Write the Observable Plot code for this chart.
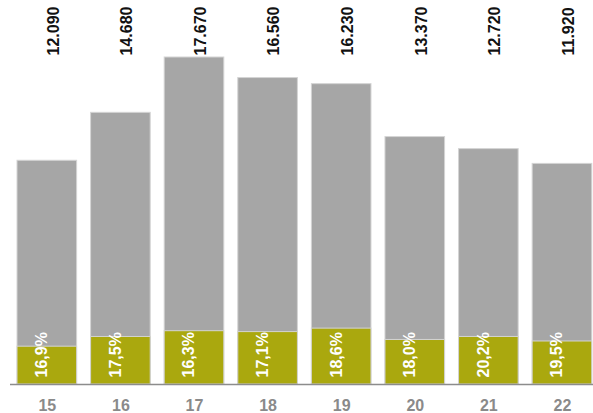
<!DOCTYPE html>
<html>
<head>
<meta charset="utf-8">
<script src="https://cdn.jsdelivr.net/npm/d3@7"></script>
<script src="https://cdn.jsdelivr.net/npm/@observablehq/plot@0.6"></script>
<style>
  html, body { margin: 0; padding: 0; background: #fff; }
  #chart svg { display: block; }
</style>
</head>
<body>
<div id="chart"></div>
<script>
const years = ["15", "16", "17", "18", "19", "20", "21", "22"];
const totals = [12090, 14680, 17670, 16560, 16230, 13370, 12720, 11920];
const totalLabels = ["12.090", "14.680", "17.670", "16.560", "16.230", "13.370", "12.720", "11.920"];
const shares = [16.9, 17.5, 16.3, 17.1, 18.6, 18.0, 20.2, 19.5];
const shareLabels = ["16,9%", "17,5%", "16,3%", "17,1%", "18,6%", "18,0%", "20,2%", "19,5%"];

const data = years.map((y, i) => ({
  year: y,
  total: totals[i],
  totalLabel: totalLabels[i],
  part: totals[i] * shares[i] / 100,
  shareLabel: shareLabels[i]
}));

const font = "'Liberation Sans Narrow', 'Arial Narrow', 'Liberation Sans', sans-serif";

const chart = Plot.plot({
  width: 593,
  height: 413,
  marginTop: 57,
  marginBottom: 29,
  marginLeft: 10,
  marginRight: 0,
  style: { fontFamily: font, background: "#fff" },
  x: { domain: years, round: false, paddingInner: 0.19, paddingOuter: 0.056, align: 0.85, label: null },
  y: { domain: [0, 17670], axis: null },
  marks: [
    Plot.barY(data, { x: "year", y: "total", fill: "#a6a6a6", stroke: "#d4d4d4", strokeWidth: 1 }),
    Plot.barY(data, { x: "year", y: "part", fill: "#aaa80e", stroke: "#d4d4d4", strokeWidth: 1 }),
    Plot.ruleY([0], { stroke: "#8c8c8c", strokeWidth: 1.5 }),
    Plot.axisX({ tickSize: 0, tickPadding: 15, fontSize: 16, fontWeight: "bold", fill: "#8a8a8a", label: null }),
    Plot.text(data, { x: "year", text: "totalLabel", frameAnchor: "top", dy: -2, rotate: -90, textAnchor: "start", fontSize: 16, fontWeight: "bold", fill: "#111" }),
    Plot.text(data, { x: "year", text: "shareLabel", frameAnchor: "bottom", dy: -7, rotate: -90, textAnchor: "start", fontSize: 16, fontWeight: "bold", fill: "#fff" })
  ]
});
document.getElementById("chart").appendChild(chart);
</script>
</body>
</html>
